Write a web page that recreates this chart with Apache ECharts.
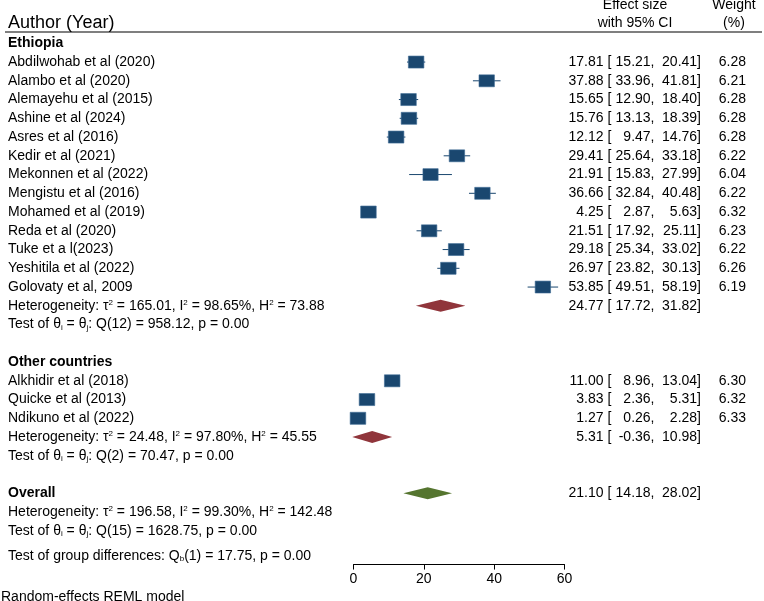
<!DOCTYPE html>
<html><head><meta charset="utf-8">
<script src="https://cdn.jsdelivr.net/npm/echarts@6/dist/echarts.min.js"></script>
<style>html,body{margin:0;padding:0;background:#fff}#c{width:764px;height:601px}</style>
</head><body><div id="c"></div>
<script>
// ---- data ----
const groupNames = ['Ethiopia', 'Other countries'];
const ethNames = ['Abdilwohab et al (2020)','Alambo et al (2020)','Alemayehu et al (2015)','Ashine et al (2024)','Asres et al (2016)','Kedir et al (2021)','Mekonnen et al (2022)','Mengistu et al (2016)','Mohamed et al (2019)','Reda et al (2020)','Tuke et a l(2023)','Yeshitila et al (2022)','Golovaty et al, 2009'];
const ethEst = [17.81, 37.88, 15.65, 15.76, 12.12, 29.41, 21.91, 36.66, 4.25, 21.51, 29.18, 26.97, 53.85];
const ethLo  = [15.21, 33.96, 12.90, 13.13,  9.47, 25.64, 15.83, 32.84, 2.87, 17.92, 25.34, 23.82, 49.51];
const ethHi  = [20.41, 41.81, 18.40, 18.39, 14.76, 33.18, 27.99, 40.48, 5.63, 25.11, 33.02, 30.13, 58.19];
const ethW   = [6.28, 6.21, 6.28, 6.28, 6.28, 6.22, 6.04, 6.22, 6.32, 6.23, 6.22, 6.26, 6.19];
const othNames = ['Alkhidir et al (2018)','Quicke et al (2013)','Ndikuno et al (2022)'];
const othEst = [11.00, 3.83, 1.27];
const othLo  = [8.96, 2.36, 0.26];
const othHi  = [13.04, 5.31, 2.28];
const othW   = [6.30, 6.32, 6.33];
const poolEst = [24.77, 5.31];
const poolLo  = [17.72, -0.36];
const poolHi  = [31.82, 10.98];
const hetTau2 = [165.01, 24.48];
const hetI2   = [98.65, 97.80];
const hetH2   = [73.88, 45.55];
const testDf  = [12, 2];
const testQ   = [958.12, 70.47];
const testP   = [0.00, 0.00];
const overallEst = [21.10, 14.18, 28.02];       // estimate, lower, upper
const overallHet = [196.58, 99.30, 142.48];     // tau2, I2, H2
const overallTest = [15, 1628.75, 0.00];        // df, Q, p
const groupDiffTest = [1, 17.75, 0.00];         // df, Qb, p
const xTicks = [0, 20, 40, 60];

// ---- layout / style ----
const FF = '"Liberation Sans", Arial, Helvetica, sans-serif';
const NAVY = '#1a476f', MAROON = '#90353b', GREEN = '#55752f';
const LABEL_X = 8, EST_R = 603.5, BR_L = 607.5, LO_R = 654.5, HI_R = 701, W_R = 746;

function hetLabel(t, i, h) {
  return 'Heterogeneity: τ{sup|2} = ' + t.toFixed(2) + ', I{sup|2} = ' + i.toFixed(2) + '%, H{sup|2} = ' + h.toFixed(2);
}
function testLabel(df, q, p) {
  return 'Test of θ{sub|i} = θ{sub|j}: Q(' + df + ') = ' + q.toFixed(2) + ', p = ' + p.toFixed(2);
}

const rows = [];
let r = -1;
const groups = [
  [ethNames, ethEst, ethLo, ethHi, ethW],
  [othNames, othEst, othLo, othHi, othW]
];
groups.forEach((g, gi) => {
  rows.push({ y: r++, label: groupNames[gi], bold: true });
  g[0].forEach((n, i) => rows.push({ y: r++, label: n, est: g[1][i], lo: g[2][i], hi: g[3][i], w: g[4][i], kind: 'study' }));
  rows.push({ y: r++, label: hetLabel(hetTau2[gi], hetI2[gi], hetH2[gi]), est: poolEst[gi], lo: poolLo[gi], hi: poolHi[gi], kind: 'pool', color: MAROON });
  rows.push({ y: r++, label: testLabel(testDf[gi], testQ[gi], testP[gi]) });
  r++;
});
rows.push({ y: r++, label: 'Overall', bold: true, est: overallEst[0], lo: overallEst[1], hi: overallEst[2], kind: 'pool', color: GREEN });
rows.push({ y: r++, label: hetLabel(overallHet[0], overallHet[1], overallHet[2]) });
rows.push({ y: r++, label: testLabel(overallTest[0], overallTest[1], overallTest[2]) });
rows.push({ y: r + 0.34, label: 'Test of group differences: Q{sub|b}(' + groupDiffTest[0] + ') = ' + groupDiffTest[1].toFixed(2) + ', p = ' + groupDiffTest[2].toFixed(2) });

function txt(x, y, text, align, extra) {
  return {
    type: 'text',
    style: Object.assign({
      x: x, y: y, text: text,
      align: align, verticalAlign: 'middle',
      textAlign: align, textVerticalAlign: 'middle',
      fill: '#000', fontSize: 14, fontFamily: FF, fontWeight: 'normal',
      rich: {
        sup: { fontSize: 8, fontFamily: FF, verticalAlign: 'top', fill: '#000' },
        sub: { fontSize: 8, fontFamily: FF, verticalAlign: 'bottom', fill: '#000' }
      }
    }, extra || {})
  };
}
function hdr(x, y, text, align, size) {
  return { type: 'text', x: x, y: y, silent: true,
    style: { text: text, fontSize: size || 14, fontFamily: FF, fill: '#000', textAlign: align, textVerticalAlign: 'middle', align: align, verticalAlign: 'middle' } };
}

const chart = echarts.init(document.getElementById('c'));
chart.setOption({
  animation: false,
  backgroundColor: '#fff',
  grid: { left: 353.5, right: 199.5, top: 43.3, bottom: 36.45, containLabel: false },
  xAxis: {
    type: 'value', min: xTicks[0], max: xTicks[xTicks.length - 1], interval: 20,
    axisLine: { show: true, onZero: false, lineStyle: { color: '#000', width: 1 } },
    axisTick: { show: true, length: 5, lineStyle: { color: '#000' } },
    axisLabel: { color: '#000', fontSize: 14, fontFamily: FF, margin: 8 },
    splitLine: { show: false }
  },
  yAxis: { type: 'value', inverse: true, min: -1, max: 26.8, show: false },
  graphic: [
    hdr(8, 23, 'Author (Year)', 'left', 18),
    hdr(635, 5.5, 'Effect size', 'center'),
    hdr(635, 23.5, 'with 95% CI', 'center'),
    hdr(734, 5.5, 'Weight', 'center'),
    hdr(734, 23.5, '(%)', 'center'),
    { type: 'line', silent: true, shape: { x1: 5, y1: 32, x2: 762, y2: 32 }, style: { stroke: '#000', lineWidth: 1.2 } },
    hdr(1, 597, 'Random-effects REML model', 'left')
  ],
  series: [
    {
      type: 'custom', name: 'studies', clip: false,
      data: rows.filter(o => o.kind === 'study').map(o => [o.est, o.y, o.lo, o.hi, o.w]),
      renderItem: function (params, api) {
        const c = api.coord([api.value(0), api.value(1)]);
        const l = api.coord([api.value(2), api.value(1)]);
        const h = api.coord([api.value(3), api.value(1)]);
        const s = Math.sqrt(api.value(4) / 6.28);
        const bw = 15.5 * s, bh = 12 * s;
        return {
          type: 'group', children: [
            { type: 'line', shape: { x1: l[0], y1: c[1], x2: h[0], y2: c[1] }, style: { stroke: NAVY, lineWidth: 1 } },
            { type: 'rect', shape: { x: c[0] - bw / 2, y: c[1] - bh / 2, width: bw, height: bh }, style: { fill: NAVY, stroke: '#3d6a93', lineWidth: 0.6 } }
          ]
        };
      }
    },
    {
      type: 'custom', name: 'pooled', clip: false,
      data: rows.filter(o => o.kind === 'pool').map(o => ({ value: [o.est, o.y, o.lo, o.hi], itemStyle: { color: o.color } })),
      renderItem: function (params, api) {
        const c = api.coord([api.value(0), api.value(1)]);
        const l = api.coord([api.value(2), api.value(1)]);
        const h = api.coord([api.value(3), api.value(1)]);
        const hh = 6;
        return {
          type: 'polygon',
          shape: { points: [[l[0], c[1]], [c[0], c[1] - hh], [h[0], c[1]], [c[0], c[1] + hh]] },
          style: { fill: api.visual('color') }
        };
      }
    },
    {
      type: 'custom', name: 'text', clip: false, silent: true,
      data: rows.map((o, i) => [0, o.y, i]),
      renderItem: function (params, api) {
        const o = rows[api.value(2)];
        const y = api.coord([0, api.value(1)])[1];
        const ch = [txt(LABEL_X, y, o.label, 'left', o.bold ? { fontWeight: 'bold' } : null)];
        if (o.est !== undefined) {
          ch.push(txt(EST_R, y, o.est.toFixed(2), 'right'));
          ch.push(txt(BR_L, y, '[', 'left'));
          ch.push(txt(LO_R, y, o.lo.toFixed(2) + ',', 'right'));
          ch.push(txt(HI_R, y, o.hi.toFixed(2) + ']', 'right'));
          if (o.w !== undefined) ch.push(txt(W_R, y, o.w.toFixed(2), 'right'));
        }
        return { type: 'group', children: ch };
      }
    }
  ]
});
</script>
</body></html>
